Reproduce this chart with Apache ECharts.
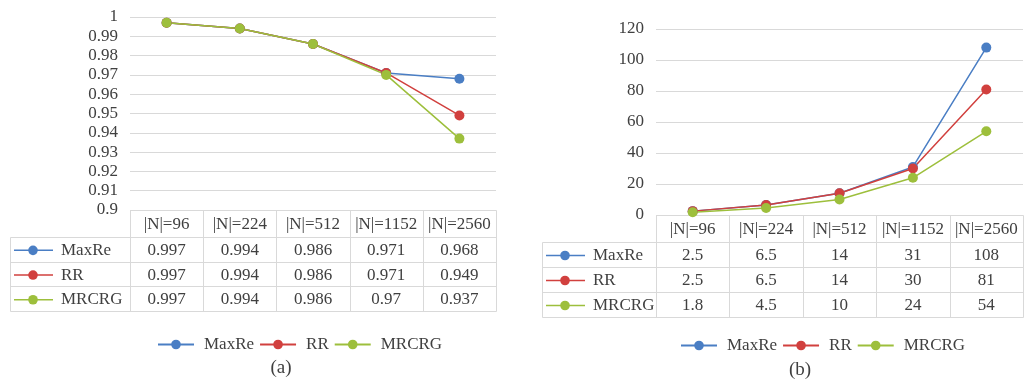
<!DOCTYPE html>
<html>
<head>
<meta charset="utf-8">
<script src="https://cdn.jsdelivr.net/npm/echarts@6/dist/echarts.min.js"></script>
<style>
  html, body { margin: 0; padding: 0; background: #ffffff; }
  #chart { width: 1025px; height: 383px; }
</style>
</head>
<body>
<div id="chart"></div>
<script>
// Category labels shared by both panels
const categories = ['|N|=96', '|N|=224', '|N|=512', '|N|=1152', '|N|=2560'];
const seriesNames = ['MaxRe', 'RR', 'MRCRG'];

// Panel (a): accuracy
const accuracyMaxRe = [0.997, 0.994, 0.986, 0.971, 0.968];
const accuracyRR = [0.997, 0.994, 0.986, 0.971, 0.949];
const accuracyMRCRG = [0.997, 0.994, 0.986, 0.97, 0.937];

// Panel (b): running time
const timeMaxRe = [2.5, 6.5, 14, 31, 108];
const timeRR = [2.5, 6.5, 14, 30, 81];
const timeMRCRG = [1.8, 4.5, 10, 24, 54];

const colors = ['#4a7ec4', '#d1403e', '#9dbf3c'];
const FONT = '"Liberation Serif", "Times New Roman", serif';
const TEXT = '#404040';
const RULE = '#d9d9d9';

const panels = [
  {
    grid: { left: 130, top: 17, width: 366, height: 193 },
    yAxis: { min: 0.9, max: 1, interval: 0.01 },
    values: [accuracyMaxRe, accuracyRR, accuracyMRCRG],
    labelLeft: 10, headerH: 27, rowH: 24.7,
    legendLeft: 157, legendTop: 336,
    caption: '(a)', captionX: 281, captionY: 368
  },
  {
    grid: { left: 656, top: 29, width: 367, height: 186 },
    yAxis: { min: 0, max: 120, interval: 20 },
    values: [timeMaxRe, timeRR, timeMRCRG],
    labelLeft: 542, headerH: 27, rowH: 25,
    legendLeft: 680, legendTop: 337,
    caption: '(b)', captionX: 800, captionY: 370
  }
];

function textEl(str, x, y, align, size) {
  return {
    type: 'text', silent: true,
    style: {
      text: str, x: x, y: y,
      align: align, verticalAlign: 'middle',
      textAlign: align, textVerticalAlign: 'middle',
      font: (size || 17) + 'px ' + FONT, fill: TEXT
    }
  };
}
function lineEl(x1, y1, x2, y2, color, width) {
  return {
    type: 'line', silent: true,
    shape: { x1: x1, y1: y1, x2: x2, y2: y2 },
    style: { stroke: color || RULE, lineWidth: width || 1 }
  };
}

// Data table under each plot, laid out on the category bands of the x axis
function buildTable(p) {
  const els = [];
  const g = p.grid;
  const n = categories.length;
  const band = g.width / n;
  const top = g.top + g.height;
  const rows = seriesNames.length;
  const bottom = top + p.headerH + rows * p.rowH;
  const right = g.left + g.width;
  const snap = v => Math.round(v) + 0.5;

  // horizontal rules
  els.push(lineEl(snap(g.left), snap(top), snap(right), snap(top)));
  for (let r = 0; r <= rows; r++) {
    const y = snap(top + p.headerH + r * p.rowH);
    els.push(lineEl(snap(p.labelLeft), y, snap(right), y));
  }
  // vertical rules
  els.push(lineEl(snap(p.labelLeft), snap(top + p.headerH), snap(p.labelLeft), snap(bottom)));
  for (let c = 0; c <= n; c++) {
    const x = snap(g.left + c * band);
    els.push(lineEl(x, snap(top), x, snap(bottom)));
  }
  // header
  categories.forEach((cat, c) => {
    els.push(textEl(cat, g.left + (c + 0.5) * band, top + p.headerH / 2 + 1, 'center'));
  });
  // rows
  seriesNames.forEach((name, r) => {
    const cy = top + p.headerH + (r + 0.5) * p.rowH + 1;
    const lx = p.labelLeft;
    els.push(lineEl(lx + 4, cy, lx + 43, cy, colors[r], 1.5));
    els.push({
      type: 'circle', silent: true,
      shape: { cx: lx + 23, cy: cy, r: 4.8 },
      style: { fill: colors[r] }
    });
    els.push(textEl(name, lx + 51, cy, 'left'));
    p.values[r].forEach((v, c) => {
      els.push(textEl(String(v), g.left + (c + 0.5) * band, cy, 'center'));
    });
  });
  els.push(textEl(p.caption, p.captionX, p.captionY, 'center', 19));
  return els;
}

const option = {
  animation: false,
  backgroundColor: '#ffffff',
  color: colors,
  grid: panels.map(p => Object.assign({ containLabel: false }, p.grid)),
  xAxis: panels.map((p, i) => ({
    type: 'category', gridIndex: i, data: categories, boundaryGap: true,
    axisLine: { show: false }, axisTick: { show: false }, axisLabel: { show: false },
    splitLine: { show: false }
  })),
  yAxis: panels.map((p, i) => ({
    type: 'value', gridIndex: i,
    min: p.yAxis.min, max: p.yAxis.max, interval: p.yAxis.interval,
    axisLine: { show: false }, axisTick: { show: false },
    axisLabel: { margin: 12, color: TEXT, fontSize: 17, fontFamily: FONT },
    splitLine: { lineStyle: { color: RULE, width: 1 } }
  })),
  legend: panels.map(p => ({
    data: seriesNames,
    left: p.legendLeft, top: p.legendTop, padding: 0,
    itemWidth: 36, itemHeight: 12, itemGap: 5,
    textStyle: { color: TEXT, fontSize: 17, fontFamily: FONT, padding: [0, 0, 0, 5] }
  })),
  series: [],
  graphic: { elements: [].concat(buildTable(panels[0]), buildTable(panels[1])) }
};

panels.forEach((p, i) => {
  seriesNames.forEach((name, s) => {
    option.series.push({
      name: name, type: 'line',
      xAxisIndex: i, yAxisIndex: i,
      data: p.values[s],
      symbol: 'circle', symbolSize: 10,
      lineStyle: { width: 1.5, color: colors[s] },
      itemStyle: { color: colors[s] },
      emphasis: { disabled: true }
    });
  });
});

const chart = echarts.init(document.getElementById('chart'), null, { renderer: 'canvas' });
chart.setOption(option);
</script>
</body>
</html>
